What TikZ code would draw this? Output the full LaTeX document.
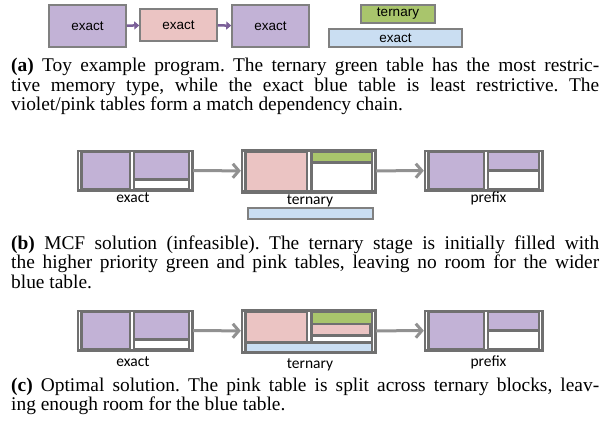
\documentclass[tikz,border=0pt]{standalone}
\usepackage{fontspec}
\setmainfont{Liberation Serif}
\newfontfamily\arialfont{Liberation Sans}
\newfontfamily\calibrifont{Carlito}
\usetikzlibrary{positioning, arrows.meta}
\definecolor{violetfill}{RGB}{194,178,214}
\definecolor{pinkfill}{RGB}{235,196,195}
\definecolor{greenfill}{RGB}{169,197,108}
\definecolor{bluefill}{RGB}{202,222,242}
\definecolor{framegray}{RGB}{128,128,128}
\definecolor{stagegray}{RGB}{112,112,112}
\definecolor{flowgray}{RGB}{145,145,145}
\definecolor{chainviolet}{RGB}{123,95,152}
\frenchspacing
\tikzset{table/.style={draw=framegray,line width=1.5pt,inner sep=0pt,font=\arialfont\fontsize{13.5}{15}\selectfont},
         chain/.style={-{Triangle[length=5pt,width=8pt]},line width=2.5pt,draw=chainviolet},
         stage/.style={fill=stagegray,draw=stagegray,inner sep=0pt},
         flow/.style={-{Straight Barb[length=6pt,width=14pt]},line width=3pt,draw=flowgray},
         bar/.style={draw=white,line width=1.5pt},
         cell/.style={draw=stagegray,line width=0.6pt},
         stagelabel/.style={anchor=base,inner sep=0pt,font=\calibrifont\fontsize{15.5}{17}\selectfont},
         caption/.style={anchor=base west,inner sep=0pt,font=\fontsize{19.4}{19.5}\selectfont},
        }
\begin{document}
\begin{tikzpicture}[x=1pt,y=-1pt]
        \useasboundingbox (0,0) rectangle (611,425);
        % (a) toy program
        \node[table,fill=violetfill,minimum width=77pt,minimum height=42pt](t1)at(87.5,26){exact};
        \node[table,fill=pinkfill,minimum width=77pt,minimum height=32pt](t2)at(178.5,25){exact};
        \node[table,fill=violetfill,minimum width=77pt,minimum height=42pt](t3)at(270.5,26){exact};
        \node[table,fill=greenfill,minimum width=74pt,minimum height=18pt](tg)at(398,14){ternary};
        \node[table,fill=bluefill,minimum width=133pt,minimum height=18pt](tb)at(395.5,38){exact};
        \draw[chain](t1)--(t2);
        \draw[chain](t2)--(t3);

        \node[caption](capa1)at(11,72){\makebox[588pt][s]{\textbf{(a)} Toy example program. The ternary green table has the most restric-}};
        \node[caption](capa2)at(11,91.5){\makebox[588pt][s]{tive memory type, while the exact blue table is least restrictive. The}};
        \node[caption](capa3)at(11,111){violet/pink tables form a match dependency chain.};

        % (b) and (c) stages
        \foreach \dy/\ly/\s in {0/0/b,160/163/c}{
            \node[stage,minimum width=116pt,minimum height=41pt](exact\s)at(135,170.5+\dy){};
            \node[stage,minimum width=135pt,minimum height=44pt](tern\s)at(308.5,171+\dy){};
            \node[stage,minimum width=119pt,minimum height=41pt](prefix\s)at(483.5,170.5+\dy){};
            \draw[cell,fill=violetfill](82,152.5+\dy)rectangle(129.5,188.5+\dy);
            \draw[cell,fill=violetfill](134.5,152.5+\dy)rectangle(188,178+\dy);
            \draw[cell,fill=white](134.5,180+\dy)rectangle(188,188.5+\dy);
            \draw[cell,fill=violetfill](429,152.5+\dy)rectangle(483.5,188.5+\dy);
            \draw[cell,fill=violetfill](488.5,152.5+\dy)rectangle(538,169.5+\dy);
            \draw[cell,fill=white](488.5,171.5+\dy)rectangle(538,188.5+\dy);
            \foreach \x in {79.5,132,190.5,426.5,486,540.5}
                \draw[bar](\x,152+\dy)--(\x,189+\dy);
            \draw[flow](exact\s)--(tern\s);
            \draw[flow](tern\s)--(prefix\s);
            \node[stagelabel](lex\s)at(133,203+\ly){exact};
            \node[stagelabel](lte\s)at(310,205+\ly){ternary};
            \node[stagelabel](lpr\s)at(488.5,203+\ly){prefix};
        }

        % (b) ternary stage
        \draw[cell,fill=pinkfill](246,152)rectangle(306,190);
        \draw[cell,fill=greenfill](312,152)rectangle(371,161);
        \draw[cell,fill=white](312,163)rectangle(371,190);
        \foreach \x in {243.5,309,373.5}
            \draw[bar](\x,152)--(\x,190);
        \draw[draw=framegray,line width=1.2pt,fill=bluefill](248,208)rectangle(373,219);

        \node[caption](capb1)at(11,249){\makebox[588pt][s]{\textbf{(b)} MCF solution (infeasible). The ternary stage is initially filled with}};
        \node[caption](capb2)at(11,268.5){\makebox[588pt][s]{the higher priority green and pink tables, leaving no room for the wider}};
        \node[caption](capb3)at(11,288){blue table.};

        % (c) ternary stage
        \draw[cell,fill=pinkfill](246,312)rectangle(306,341);
        \draw[cell,fill=greenfill](312,312)rectangle(371,323);
        \draw[cell,fill=pinkfill](312,324.5)rectangle(369,334);
        \draw[cell,fill=white](312,336)rectangle(371,341);
        \draw[cell,fill=bluefill](246,343.5)rectangle(371,351);
        \draw[bar](243.5,312)--(243.5,351);
        \draw[bar](373.5,312)--(373.5,351);
        \draw[bar](309,312)--(309,341);

        \node[caption](capc1)at(11,391){\makebox[588pt][s]{\textbf{(c)} Optimal solution. The pink table is split across ternary blocks, leav-}};
        \node[caption](capc2)at(11,410.5){ing enough room for the blue table.};
    \end{tikzpicture}
\end{document}
